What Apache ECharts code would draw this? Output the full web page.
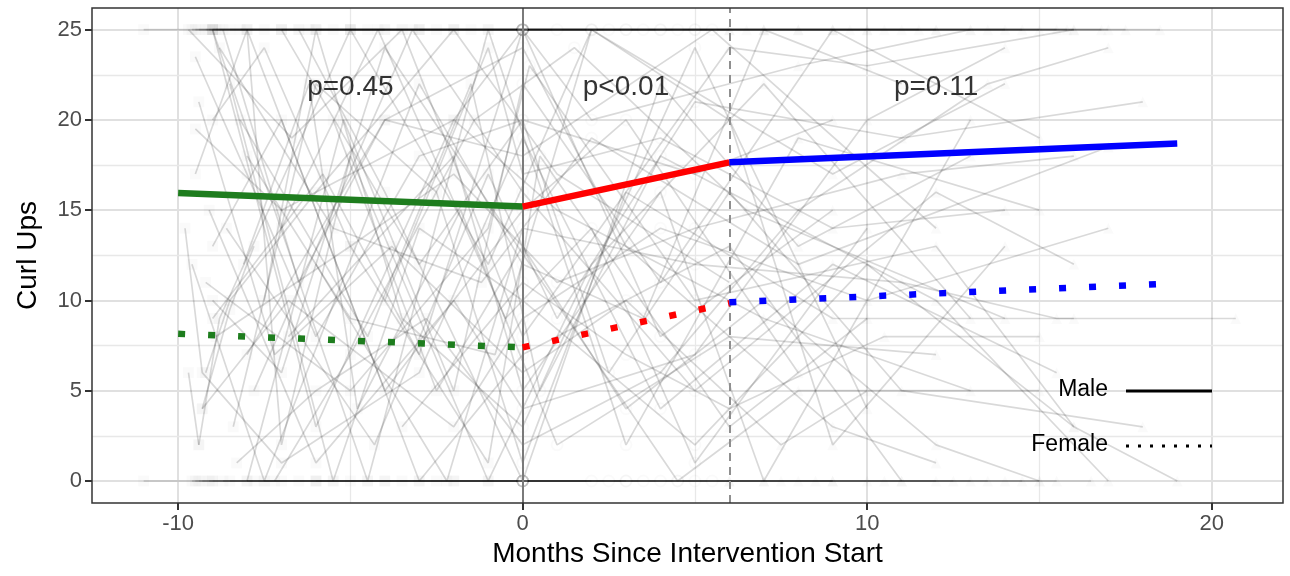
<!DOCTYPE html>
<html>
<head>
<meta charset="utf-8">
<script src="https://cdn.jsdelivr.net/npm/echarts@6/dist/echarts.min.js"></script>
<style>
  html, body { margin: 0; padding: 0; background: #fff; }
  #chart { width: 1290px; height: 576px; }
</style>
</head>
<body>
<div id="chart"></div>
<script>
// fitted trends (x = months since intervention start)
var preX = [-10, 0];
var intX = [0, 6];
var postX = [6, 19];
var malePre = [15.95, 15.2];
var maleInt = [15.2, 17.65];
var malePost = [17.65, 18.7];
var femalePre = [8.15, 7.4];
var femaleInt = [7.4, 9.85];
var femalePost = [9.9, 10.95];

// p-value labels
var pX = [-5, 3, 12];
var pY = [21.8, 21.8, 21.8];
var pText = ["p=0.45", "p<0.01", "p=0.11"];

// axis ticks
var xTicks = [-10, 0, 10, 20];
var yTicks = [0, 5, 10, 15, 20, 25];
var xMinor = [-5, 5, 15];
var yMinor = [2.5, 7.5, 12.5, 17.5, 22.5];

// individual trajectories
var people = [
  [[-9.2,25],[-7.5,25],[-5,25],[-2,25],[0,25],[3,25],[6,25]],
  [[-9,25],[-6,25],[-3,25],[0,25],[4,25],[8,25],[12,25]],
  [[-8.5,25],[-4,25],[0,25],[5,25],[10,25],[14,25]],
  [[-7,25],[-3,25],[0,25],[6,25],[13,25],[17,25]],
  [[-9.5,25],[-8,25],[-6.5,25],[-5,25],[0,25],[2,25]],
  [[-8.8,25],[-5,25],[-1,25],[1,25],[7,25],[11,25],[15.5,25]],
  [[-6,25],[0,25],[4,25],[9,25],[16,25]],
  [[-9,25],[-2,25],[0,25],[3,25],[10,25],[18.5,25]],
  [[-11,25],[-9,25],[-4,25]],
  [[-3,25],[0,25],[7,25],[12,25],[17.5,25]],
  [[-9.4,25],[-5.5,25],[0,25],[5,25],[9,25],[15,25]],
  [[-8.9,25],[-4.5,25],[0,25],[2.5,25],[8,25],[13.5,25],[16.8,25]],
  [[-9.1,25],[-7,25],[-2.5,25],[0,25],[6.5,25],[11.5,25]],
  [[-8.2,25],[-3.5,25],[0,25],[4.5,25],[10.5,25],[15.8,25]],
  [[-9.6,25],[-6.2,25],[-1.5,25],[0,25],[3.5,25],[9.5,25],[14.5,25]],
  [[-9.5,0],[-7,0],[-4,0],[0,0],[3,0]],
  [[-9,0],[-6,0],[-2,0],[0,0],[5,0],[9,0]],
  [[-8.5,0],[-5,0],[0,0],[4,0],[8,0],[12,0]],
  [[-7.5,0],[-3,0],[0,0],[6,0],[11,0],[15.5,0]],
  [[-11,0],[-9,0],[-6,0],[-1,0],[0,0],[2,0]],
  [[-9.3,0],[-4,0],[0,0],[7,0],[13,0]],
  [[-6,0],[0,0],[3,0],[10,0],[14,0],[16.5,0]],
  [[-8,0],[-2,0],[0,0],[6,0],[9,0]],
  [[-9.4,0],[-5.5,0],[0,0],[2.5,0],[8.5,0],[14.5,0]],
  [[-9.1,0],[-3.5,0],[0,0],[5.5,0],[10.5,0],[15,0]],
  [[-8.7,0],[-6.5,0],[-2.5,0],[0,0],[4.5,0],[12.5,0]],
  [[-9.6,0],[-7.8,0],[-4.5,0],[0,0],[3.5,0],[7.5,0],[13.5,0]],
  [[-9,25],[-6,3],[-2,20],[0,25],[4,8],[9,15]],
  [[-8.5,22],[-5.5,0],[-3,14],[0,10],[5,2],[10,12],[16,3]],
  [[-9.5,17],[-8,25],[-4,5],[0,15],[3,20],[8,6]],
  [[-9,13],[-7,20],[-3,0],[0,7],[6,13],[11,0]],
  [[-8,25],[-7,2],[-5,18],[-1,0],[2,12],[7,22],[13,9]],
  [[-9.2,6],[-8.5,10],[-6,16],[-2,25],[1,17],[6,11]],
  [[-9.4,2],[-8.8,9],[-5,25],[-1,12],[2,25],[9,17],[14,22]],
  [[-8.2,20],[-4.5,8],[-1.5,22],[0.5,5],[4,18],[12,10],[17,0]],
  [[-9,25],[-4.5,0],[-1,25],[3,2],[8,19],[15,15]],
  [[-7.5,10],[-6,25],[-3.5,9],[0,3],[5,24],[10,4]],
  [[-8.7,25],[-6.5,11],[-4,20],[0,18],[5.5,25],[12,14]],
  [[-8,0],[-5.2,20],[-2,5],[0,22],[4,11],[9,25],[15,19]],
  [[-9.5,19.5],[-7,15],[-2,20],[1,15],[7,9],[13,5]],
  [[-8.4,3],[-6,22],[-2.5,16],[0,1],[3,16],[9,9],[16,9]],
  [[-9,10],[-7,6],[-4,24],[-0.5,14],[4.5,0],[8,5],[15,5]],
  [[-7,25],[-3,12],[0,20],[2.5,6],[6,16],[11,5],[18,3]],
  [[-9.1,15],[-6,1],[-2,10],[0,4],[5,7],[10,20],[14,24]],
  [[-8.9,8],[-5,13],[-1,1],[0.5,18],[6,3],[10,9]],
  [[-6.5,25],[-4,16],[0,0],[4,22],[8,13],[13,18]],
  [[-9.6,12],[-7.5,0],[-3,22],[0,12],[3.5,9],[7,25],[11,22]],
  [[-8,18],[-5,9],[-0.8,7],[2,25],[6,20],[9,2],[14,13]],
  [[-7.8,5],[-3.2,25],[0,16],[5,5],[12,16],[16,12]],
  [[-9.3,4],[-6.8,10],[-2,3],[0,9],[4,14],[10,10],[17,14]],
  [[-9.5,23.5],[-8,17],[-6,8],[-3,18],[0,20],[5,17],[9,20]],
  [[-8.6,14],[-4.3,2],[-1,17],[1,9],[5,21],[11,19],[18,21]],
  [[-5.5,20],[-2.5,5],[0,13],[3,4],[7,10],[12,2],[15,0]],
  [[-9,9],[-5.8,17],[-3,7],[0,25],[2,20],[8,23],[13,25]],
  [[-4,10],[-1,24],[0,17],[4,19],[9,14],[14,15]],
  [[-8.1,12],[-6.2,22],[-4.8,4],[-1.8,15],[1,2],[6,8],[12,7]],
  [[-9.4,21],[-7.2,7],[-3.8,13],[0,6],[3,10],[7.5,2],[10,5]],
  [[-7,14],[-4.2,25],[-0.5,9],[2,14],[5,1],[10,14]],
  [[-8.3,1],[-6,5],[-2.8,9],[0,2],[4,6],[8,15],[13.5,22],[17,24]],
  [[-9.7,25],[-6.7,19],[-3.5,25],[0,8],[6,24],[10,23],[16,25]],
  [[-8,7],[-4,20],[0,24],[3,13],[9,3],[12,1]],
  [[-6,12],[-2.2,0],[0,14],[5,12],[11,11],[15.5,9],[20.7,9]],
  [[-9,20],[-7.5,24],[-5,13],[-2,17],[1,11],[5,14],[11,17],[16,18]],
  [[-7.2,0],[-5,7],[-1.4,20],[1.5,24],[6.5,15],[14,9]],
  [[-9.8,14],[-9.3,6],[-7,1],[-3,6],[0,19],[4,4],[9,12],[15.5,6]],
  [[-3.5,3],[0,11],[3,7],[6,4],[10.5,8],[15,8]],
  [[-8.8,24],[-5.5,14],[-1.2,11],[2,19],[8,12],[17,18.5]],
  [[-6.8,8],[-2,18],[0,5],[4,16],[7,0],[13,20]],
  [[-9.2,11],[-5,5],[-1,14],[0.2,23],[5,10],[12,13],[16,3],[19,0]],
  [[-9.7,6],[-9.4,2]],
  [[-9.3,4],[-8.5,9.5],[-7.8,13]]
];

var chart = echarts.init(document.getElementById("chart"));

function pairs(xs, ys) {
  return xs.map(function (x, i) { return [x, ys[i]]; });
}

var series = [];

// grid lines (kept under the data: markLine defaults to z 5)
var gridLines = [];
xTicks.forEach(function (v) { gridLines.push({ xAxis: v, lineStyle: { color: "#e0e0e0", width: 2, type: "solid" } }); });
xMinor.forEach(function (v) { gridLines.push({ xAxis: v, lineStyle: { color: "#e8e8e8", width: 1.3, type: "solid" } }); });
yTicks.forEach(function (v) { gridLines.push({ yAxis: v, lineStyle: { color: "#e0e0e0", width: 2, type: "solid" } }); });
yMinor.forEach(function (v) { gridLines.push({ yAxis: v, lineStyle: { color: "#e8e8e8", width: 1.3, type: "solid" } }); });
series.push({
  type: "line", data: [], silent: true, z: 0,
  markLine: { z: 0, silent: true, symbol: "none", label: { show: false }, animation: false, data: gridLines }
});
// intervention start / end
series.push({
  type: "line", data: [], silent: true, z: 3,
  markLine: {
    z: 3, silent: true, symbol: "none", label: { show: false }, animation: false,
    data: [
      { xAxis: 0, lineStyle: { color: "#7a7a7a", width: 2, type: "solid" } },
      { xAxis: 6, lineStyle: { color: "#8f8f8f", width: 2, type: [8, 6] } }
    ]
  }
});

// spaghetti
people.forEach(function (p) {
  series.push({
    type: "line", data: p, z: 2, silent: true,
    showSymbol: true, symbolSize: 11,
    symbol: function (v) { return v[0] < 0 ? "rect" : (v[0] < 6 ? "emptyCircle" : "triangle"); },
    itemStyle: { color: "#000", opacity: 0.02 },
    lineStyle: { color: "rgba(0,0,0,0.15)", width: 1.7 },
    emphasis: { disabled: true }
  });
});

// trends
function trend(xs, ys, color, dotted) {
  return {
    type: "line", data: pairs(xs, ys), z: 5, silent: true, showSymbol: false,
    lineStyle: { color: color, width: 6.5, type: dotted ? [7, 23] : "solid", cap: "butt" },
    emphasis: { disabled: true }
  };
}
series.push(trend(preX, malePre, "#1e7d1e", false));
series.push(trend(intX, maleInt, "#ff0000", false));
series.push(trend(postX, malePost, "#0000ff", false));
series.push(trend(preX, femalePre, "#1e7d1e", true));
series.push(trend(intX, femaleInt, "#ff0000", true));
series.push(trend(postX, femalePost, "#0000ff", true));

// p labels
series.push({
  type: "scatter", z: 6, silent: true, symbolSize: 0,
  data: pX.map(function (x, i) { return { value: [x, pY[i]], name: pText[i] }; }),
  label: { show: true, position: "inside", formatter: "{b}", color: "#000", fontSize: 28, fontFamily: "Liberation Sans" }
});

chart.setOption({
  animation: false,
  backgroundColor: "#fff",
  grid: { left: 92, right: 7, top: 8, bottom: 73, show: true, borderColor: "#333", borderWidth: 1.5, backgroundColor: "transparent", z: 10 },
  xAxis: {
    type: "value", min: -12.5, max: 22.07,
    name: "Months Since Intervention Start", nameLocation: "middle", nameGap: 36,
    nameTextStyle: { fontSize: 28, color: "#000", fontFamily: "Liberation Sans" },
    axisLine: { show: false, onZero: false },
    axisTick: { show: true, customValues: xTicks, length: 7, lineStyle: { color: "#333", width: 2 } },
    axisLabel: { customValues: xTicks, fontSize: 22, color: "#4d4d4d", margin: 10, fontFamily: "Liberation Sans" },
    splitLine: { show: false }
  },
  yAxis: {
    type: "value", min: -1.22, max: 26.2,
    name: "Curl Ups", nameLocation: "middle", nameGap: 50, nameRotate: 90,
    nameTextStyle: { fontSize: 28, color: "#000", fontFamily: "Liberation Sans" },
    axisLine: { show: false, onZero: false },
    axisTick: { show: true, customValues: yTicks, length: 7, lineStyle: { color: "#333", width: 2 } },
    axisLabel: { customValues: yTicks, fontSize: 22, color: "#4d4d4d", margin: 10, fontFamily: "Liberation Sans" },
    splitLine: { show: false }
  },
  graphic: [
    { type: "text", right: 1290 - 1108, top: 378, style: { text: "Male", fontSize: 23, fill: "#000", fontFamily: "Liberation Sans" }, z: 20 },
    { type: "line", shape: { x1: 1126, y1: 391, x2: 1212, y2: 391 }, style: { stroke: "#000", lineWidth: 3 }, z: 20 },
    { type: "text", right: 1290 - 1108, top: 433, style: { text: "Female", fontSize: 23, fill: "#000", fontFamily: "Liberation Sans" }, z: 20 },
    { type: "line", shape: { x1: 1126, y1: 446, x2: 1212, y2: 446 }, style: { stroke: "#000", lineWidth: 3, lineDash: [3, 9] }, z: 20 }
  ],
  series: series
});
</script>
</body>
</html>
